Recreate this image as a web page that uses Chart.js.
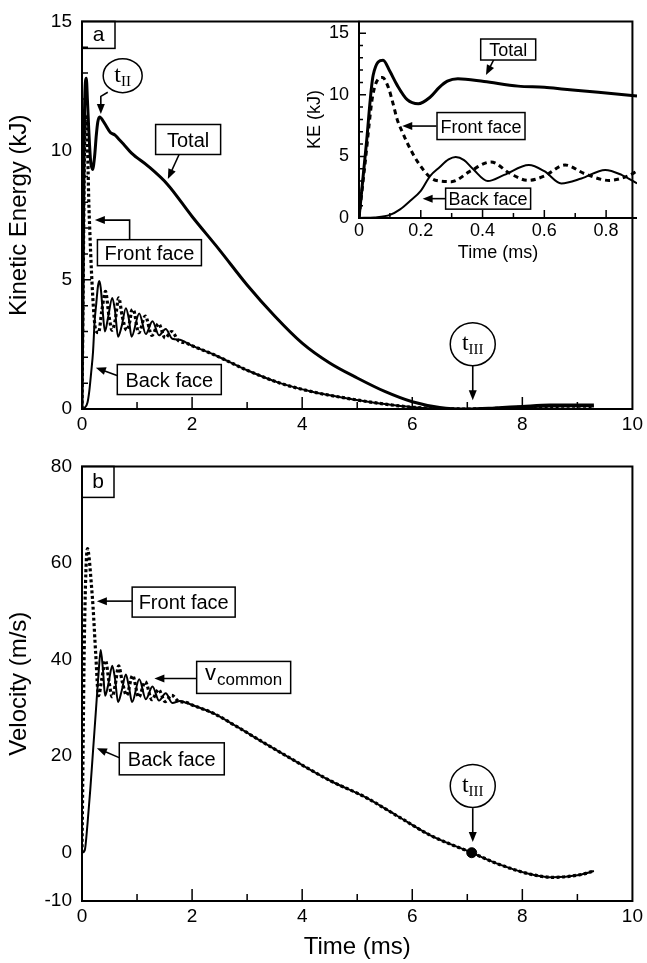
<!DOCTYPE html>
<html>
<head>
<meta charset="utf-8">
<script src="https://cdn.jsdelivr.net/npm/chart.js@4"></script>
<style>
  body { margin: 0; background: #fff; }
  #wrap { position: relative; width: 647px; height: 963px; }
  canvas { position: absolute; }
</style>
</head>
<body>
<div id="wrap">
  <canvas id="energyChart" width="647" height="445" style="left:0;top:0"></canvas>
  <canvas id="insetChart" width="357" height="265" style="left:290px;top:0"></canvas>
  <canvas id="velocityChart" width="647" height="518" style="left:0;top:445px"></canvas>
</div>
<script>
// ---- inset: kinetic energy over the first 0.9 ms (kJ) ----
const insetTotalTime = [0, 0.023, 0.046, 0.078, 0.1, 0.123, 0.156, 0.192, 0.23, 0.26, 0.286, 0.32, 0.405, 0.515, 0.6, 0.665, 0.775, 0.9];
const insetTotal     = [0, 5.8, 11.6, 12.8, 11.9, 10.8, 9.6, 9.27, 9.8, 10.6, 11.1, 11.3, 11.07, 10.7, 10.6, 10.45, 10.2, 9.9];
const insetFrontTime = [0, 0.02, 0.045, 0.076, 0.095, 0.11, 0.124, 0.14, 0.156, 0.19, 0.233, 0.26, 0.3, 0.36, 0.427, 0.49, 0.547, 0.6, 0.667, 0.73, 0.81, 0.87, 0.9];
const insetFront     = [0, 4.5, 10.0, 11.4, 10.6, 9.3, 7.96, 7.0, 6.1, 4.55, 3.25, 3.0, 2.95, 3.8, 4.55, 3.6, 3.05, 3.4, 4.3, 3.6, 3.05, 3.4, 3.8];
const insetBackTime  = [0, 0.05, 0.1, 0.133, 0.166, 0.2, 0.23, 0.26, 0.29, 0.313, 0.34, 0.37, 0.417, 0.47, 0.55, 0.6, 0.655, 0.72, 0.797, 0.85, 0.9];
const insetBack      = [0, 0.05, 0.25, 0.7, 1.4, 2.2, 3.4, 4.1, 4.75, 4.95, 4.7, 3.95, 3.0, 3.5, 4.3, 3.8, 2.8, 3.2, 3.9, 3.5, 2.8];

// ---- panel a: kinetic energy, whole run (kJ) ----
const keTotalTime = insetTotalTime.concat([1.2, 1.55, 2.0, 2.5, 3.0, 3.5, 4.0, 4.5, 5.0, 5.5, 6.0, 6.5, 7.0, 7.5, 8.0, 8.5, 9.0, 9.3]);
const keTotal     = insetTotal.concat([9.4, 8.7, 7.45, 6.15, 4.8, 3.6, 2.55, 1.78, 1.2, 0.68, 0.28, 0.06, 0.0, 0.04, 0.1, 0.15, 0.15, 0.15]);
const keCommonTime = [2.0, 2.4, 3.0, 3.6, 4.2, 4.8, 5.5, 6.0, 6.5, 7.0, 7.5, 8.0, 8.5, 9.0, 9.3];
const keCommon     = [2.45, 2.1, 1.5, 1.0, 0.66, 0.42, 0.19, 0.07, 0.02, 0.0, 0.02, 0.07, 0.1, 0.11, 0.1];
const keFrontTime = insetFrontTime.concat([0.93, 1.03, 1.15, 1.27, 1.39, 1.51, 1.63, 1.75, 1.9], keCommonTime);
const keFront     = insetFront.concat([3.85, 2.95, 3.6, 2.85, 3.3, 2.75, 3.0, 2.65, 2.55], keCommon);
const keBackTime  = insetBackTime.concat([1.04, 1.16, 1.28, 1.4, 1.52, 1.64, 1.78, 1.9], keCommonTime);
const keBack      = insetBack.concat([3.7, 2.9, 3.4, 2.85, 3.1, 2.72, 2.68, 2.56], keCommon);

// ---- panel b: velocity (m/s) ----
const velCommonTime = [2.0, 2.4, 2.8, 3.33, 3.93, 4.53, 5.13, 5.73, 6.33, 7.08, 7.53, 8.13, 8.55, 9.03, 9.3];
const velCommon     = [30.6, 28.8, 26.2, 22.6, 18.6, 14.8, 11.6, 7.6, 3.6, 0, -2.2, -4.4, -5.1, -4.6, -3.8];
const velFrontTime = [0, 0.02, 0.04, 0.07, 0.1, 0.13, 0.16, 0.2, 0.25, 0.3, 0.36, 0.427, 0.49, 0.547, 0.6, 0.667, 0.73, 0.81, 0.92, 1.03, 1.15, 1.27, 1.39, 1.51, 1.63, 1.75, 1.9].concat(velCommonTime);
const velFront     = [0, 22, 42, 58, 63, 61, 57, 51, 41, 32.5, 36, 39.8, 35.5, 32.3, 34.5, 38.7, 35.5, 32.6, 36.7, 32.2, 35.4, 31.7, 33.8, 31.3, 32.6, 31.4, 31.1].concat(velCommon);
const velBackTime  = [0, 0.05, 0.1, 0.15, 0.2, 0.25, 0.3, 0.34, 0.38, 0.42, 0.48, 0.55, 0.6, 0.655, 0.72, 0.797, 0.85, 0.91, 1.04, 1.16, 1.28, 1.4, 1.52, 1.64, 1.78, 1.9].concat(velCommonTime);
const velBack      = [0, 0.5, 6, 13, 21, 29, 37, 42, 38, 32.5, 35, 38.7, 36, 31.2, 33.5, 36.9, 34.5, 31.2, 35.9, 31.8, 34.4, 31.5, 33.0, 31.0, 31.4, 31.0].concat(velCommon);
const tIIITime = [7.08];
const tIIIVel  = [0];

// ---- axis ticks ----
const timeTicks    = [0, 2, 4, 6, 8, 10];
const keTicks      = [0, 5, 10, 15];
const velTicks     = [-10, 0, 20, 40, 60, 80];
const insetTimeTicks = [0, 0.2, 0.4, 0.6, 0.8];
const insetKeTicks = [0, 5, 10, 15];

Chart.defaults.font.family = '"Liberation Sans", Arial, sans-serif';
Chart.defaults.color = '#000';

function series(times, values, style) {
  return Object.assign({
    data: times.map((t, i) => ({ x: t, y: values[i] })),
    showLine: true,
    pointRadius: 0,
    borderColor: '#000',
    backgroundColor: '#000',
    fill: false,
    cubicInterpolationMode: 'monotone'
  }, style);
}

function axis(min, max, ticks, size, pad, title, titleSize, titlePad) {
  return {
    type: 'linear', min: min, max: max,
    afterBuildTicks: s => { s.ticks = ticks.map(v => ({ value: v })); },
    grid: { display: false, drawTicks: false },
    border: { display: false },
    ticks: { font: { size: size }, padding: pad, maxRotation: 0, autoSkip: false },
    title: title ? { display: true, text: title, font: { size: titleSize }, padding: titlePad } : { display: false }
  };
}

// frame and inward ticks
const frame = {
  id: 'frame',
  afterDatasetsDraw(chart, args, o) {
    const { ctx, chartArea: a, scales: { x, y } } = chart;
    ctx.save();
    ctx.strokeStyle = '#000';
    ctx.lineWidth = 2;
    ctx.beginPath();
    if (o.box) {
      ctx.rect(a.left, a.top, a.width, a.height);
    } else {
      ctx.moveTo(a.left, a.top);
      ctx.lineTo(a.left, a.bottom);
      ctx.lineTo(a.right, a.bottom);
    }
    ctx.stroke();
    ctx.lineWidth = 1.5;
    ctx.beginPath();
    (o.xTicks || []).forEach(([v, len]) => {
      const px = x.getPixelForValue(v);
      ctx.moveTo(px, a.bottom);
      ctx.lineTo(px, a.bottom - len);
    });
    (o.yTicks || []).forEach(([v, len]) => {
      const py = y.getPixelForValue(v);
      ctx.moveTo(a.left, py);
      ctx.lineTo(a.left + len, py);
    });
    ctx.stroke();
    ctx.restore();
  }
};

// labels, boxes and arrows
const notes = {
  id: 'notes',
  afterDraw(chart, args, o) {
    const { ctx, chartArea: a, scales: { x, y } } = chart;
    const px = p => [x.getPixelForValue(p[0]), y.getPixelForValue(p[1])];
    ctx.save();
    ctx.strokeStyle = '#000';
    ctx.fillStyle = '#000';
    (o.items || []).forEach(n => {
      if (n.type === 'arrow') {
        const pts = n.pts.map(px);
        const [tx, ty] = pts[pts.length - 1];
        const [fx, fy] = pts[pts.length - 2];
        const ang = Math.atan2(ty - fy, tx - fx);
        const L = 10, W = 4;
        ctx.lineWidth = 1.6;
        ctx.beginPath();
        pts.forEach((p, i) => {
          if (i === pts.length - 1) ctx.lineTo(tx - (L - 2) * Math.cos(ang), ty - (L - 2) * Math.sin(ang));
          else if (i) ctx.lineTo(p[0], p[1]);
          else ctx.moveTo(p[0], p[1]);
        });
        ctx.stroke();
        ctx.beginPath();
        ctx.moveTo(tx, ty);
        ctx.lineTo(tx - L * Math.cos(ang) + W * Math.sin(ang), ty - L * Math.sin(ang) - W * Math.cos(ang));
        ctx.lineTo(tx - L * Math.cos(ang) - W * Math.sin(ang), ty - L * Math.sin(ang) + W * Math.cos(ang));
        ctx.closePath();
        ctx.fill();
      } else if (n.type === 'box') {
        const [cx, cy] = px(n.at);
        ctx.lineWidth = 1.5;
        ctx.fillStyle = '#fff';
        ctx.fillRect(cx - n.w / 2, cy - n.h / 2, n.w, n.h);
        ctx.strokeRect(cx - n.w / 2, cy - n.h / 2, n.w, n.h);
        ctx.fillStyle = '#000';
        ctx.textBaseline = 'alphabetic';
        if (n.sub) {
          ctx.font = n.size + 'px "Liberation Sans"';
          const w1 = ctx.measureText(n.text).width;
          ctx.font = n.subSize + 'px "Liberation Sans"';
          const w2 = ctx.measureText(n.sub).width;
          const x0 = cx - (w1 + w2 + 1) / 2;
          ctx.textAlign = 'left';
          ctx.font = n.size + 'px "Liberation Sans"';
          ctx.fillText(n.text, x0, cy + 3);
          ctx.font = n.subSize + 'px "Liberation Sans"';
          ctx.fillText(n.sub, x0 + w1 + 1, cy + 8);
        } else {
          ctx.font = n.size + 'px "Liberation Sans"';
          ctx.textAlign = 'center';
          ctx.fillText(n.text, cx, cy + n.size * 0.36);
        }
      } else if (n.type === 'circle') {
        const [cx, cy] = px(n.at);
        ctx.lineWidth = 1.5;
        ctx.fillStyle = '#fff';
        ctx.beginPath();
        ctx.ellipse(cx, cy, n.rx, n.ry, 0, 0, Math.PI * 2);
        ctx.fill();
        ctx.stroke();
        ctx.fillStyle = '#000';
        ctx.textAlign = 'left';
        ctx.textBaseline = 'alphabetic';
        ctx.font = '24px "Liberation Serif"';
        const w1 = ctx.measureText(n.text).width;
        ctx.font = '15px "Liberation Serif"';
        const w2 = ctx.measureText(n.sub).width;
        const x0 = cx - (w1 + w2) / 2;
        ctx.font = '24px "Liberation Serif"';
        ctx.fillText(n.text, x0, cy + 6);
        ctx.font = '15px "Liberation Serif"';
        ctx.fillText(n.sub, x0 + w1, cy + 10);
      } else if (n.type === 'corner') {
        ctx.lineWidth = 1.5;
        ctx.strokeRect(a.left, a.top, n.w, n.h);
        ctx.font = '21px "Liberation Sans"';
        ctx.textAlign = 'center';
        ctx.textBaseline = 'middle';
        ctx.fillText(n.text, a.left + n.w / 2, a.top + n.h / 2);
      }
    });
    ctx.restore();
  }
};

function odd(list, len) { return list.map(v => [v, len]); }

new Chart(document.getElementById('energyChart'), {
  type: 'scatter',
  data: {
    datasets: [
      series(keFrontTime, keFront, { borderWidth: 3.2, borderDash: [3, 2.5], order: 1 }),
      series(keTotalTime, keTotal, { borderWidth: 3, order: 2 }),
      series(keBackTime, keBack, { borderWidth: 2, order: 3 })
    ]
  },
  options: {
    responsive: false,
    animation: false,
    layout: { padding: { top: 15, right: 10, left: 0, bottom: 0 }, autoPadding: false },
    scales: {
      x: Object.assign(axis(0, 10, timeTicks, 19, 4), { afterFit: s => { s.height = 36; } }),
      y: Object.assign(axis(0, 15, keTicks, 19, 10, 'Kinetic Energy (kJ)', 24, { top: 5, bottom: 0 }), { afterFit: s => { s.width = 82; } })
    },
    plugins: {
      legend: { display: false },
      tooltip: { enabled: false },
      frame: {
        box: true,
        xTicks: odd([1, 3, 5, 7, 9], 7).concat(odd([2, 4, 6, 8], 12)),
        yTicks: odd([1, 2, 3, 4, 6, 7, 8, 9, 11, 12, 13, 14], 6).concat(odd([5, 10], 9))
      },
      notes: {
        items: [
          { type: 'corner', text: 'a', w: 33, h: 27 },
          { type: 'arrow', pts: [[0.468, 12.26], [0.342, 12.1], [0.342, 11.42]] },
          { type: 'circle', at: [0.739, 12.9], rx: 19.5, ry: 17, text: 't', sub: 'II' },
          { type: 'arrow', pts: [[1.766, 9.86], [1.56, 8.9]] },
          { type: 'box', at: [1.928, 10.43], w: 65, h: 30, text: 'Total', size: 20 },
          { type: 'arrow', pts: [[0.865, 6.55], [0.865, 7.31], [0.234, 7.31]] },
          { type: 'box', at: [1.225, 6.05], w: 104, h: 26, text: 'Front face', size: 20 },
          { type: 'arrow', pts: [[0.649, 1.29], [0.252, 1.6]] },
          { type: 'box', at: [1.586, 1.14], w: 104, h: 30, text: 'Back face', size: 20 },
          { type: 'arrow', pts: [[7.099, 1.675], [7.099, 0.343]] },
          { type: 'circle', at: [7.099, 2.51], rx: 22.5, ry: 21.5, text: 't', sub: 'III' }
        ]
      }
    }
  },
  plugins: [frame, notes]
});

new Chart(document.getElementById('insetChart'), {
  type: 'scatter',
  data: {
    datasets: [
      series(insetFrontTime, insetFront, { borderWidth: 3, borderDash: [5, 4], order: 1 }),
      series(insetTotalTime, insetTotal, { borderWidth: 3, order: 2 }),
      series(insetBackTime, insetBack, { borderWidth: 2, order: 3 })
    ]
  },
  options: {
    responsive: false,
    animation: false,
    layout: { padding: { top: 14, right: 10, left: 0, bottom: 0 }, autoPadding: false },
    scales: {
      x: Object.assign(axis(0, 0.9, insetTimeTicks, 18, 2, 'Time (ms)', 18, { top: 0, bottom: 1 }), { afterFit: s => { s.height = 47; } }),
      y: Object.assign(axis(0, 16, insetKeTicks, 18, 10, 'KE (kJ)', 18, { top: 14, bottom: 0 }), { afterFit: s => { s.width = 69; } })
    },
    plugins: {
      legend: { display: false },
      tooltip: { enabled: false },
      frame: {
        box: false,
        xTicks: odd([0.1, 0.3, 0.5, 0.7], 5).concat(odd([0.2, 0.4, 0.6, 0.8], 8)),
        yTicks: odd([1, 2, 3, 4, 6, 7, 8, 9, 11, 12, 13, 14], 4).concat(odd([5, 10, 15], 7))
      },
      notes: {
        items: [
          { type: 'arrow', pts: [[0.437, 12.88], [0.411, 11.6]] },
          { type: 'box', at: [0.483, 13.67], w: 55, h: 21, text: 'Total', size: 18 },
          { type: 'arrow', pts: [[0.251, 7.46], [0.14, 7.46]] },
          { type: 'box', at: [0.395, 7.46], w: 88, h: 27, text: 'Front face', size: 18 },
          { type: 'arrow', pts: [[0.281, 1.57], [0.206, 1.57]] },
          { type: 'box', at: [0.418, 1.57], w: 85, h: 21, text: 'Back face', size: 18 }
        ]
      }
    }
  },
  plugins: [frame, notes]
});

new Chart(document.getElementById('velocityChart'), {
  type: 'scatter',
  data: {
    datasets: [
      series(tIIITime, tIIIVel, { showLine: false, pointRadius: 5, order: 0 }),
      series(velFrontTime, velFront, { borderWidth: 3.2, borderDash: [3, 2.5], order: 1 }),
      series(velBackTime, velBack, { borderWidth: 2, order: 2 })
    ]
  },
  options: {
    responsive: false,
    animation: false,
    layout: { padding: { top: 7, right: 10, left: 0, bottom: 0 }, autoPadding: false },
    scales: {
      x: Object.assign(axis(0, 10, timeTicks, 19, 4, 'Time (ms)', 24, { top: 0, bottom: 1 }), { afterFit: s => { s.height = 62; } }),
      y: Object.assign(axis(-10, 80, velTicks, 19, 10, 'Velocity (m/s)', 24, { top: 5, bottom: 0 }), { afterFit: s => { s.width = 82; } })
    },
    plugins: {
      legend: { display: false },
      tooltip: { enabled: false },
      frame: {
        box: true,
        xTicks: odd([1, 3, 5, 7, 9], 7).concat(odd([2, 4, 6, 8], 12))
      },
      notes: {
        items: [
          { type: 'corner', text: 'b', w: 32, h: 31 },
          { type: 'arrow', pts: [[0.919, 52.1], [0.27, 52.1]] },
          { type: 'box', at: [1.847, 51.9], w: 103, h: 30, text: 'Front face', size: 20 },
          { type: 'arrow', pts: [[2.09, 36.07], [1.315, 36.07]] },
          { type: 'box', at: [2.937, 36.3], w: 94, h: 32, text: 'v', sub: 'common', size: 22, subSize: 17 },
          { type: 'arrow', pts: [[0.685, 19.64], [0.27, 21.64]] },
          { type: 'box', at: [1.631, 19.44], w: 105, h: 32, text: 'Back face', size: 20 },
          { type: 'arrow', pts: [[7.099, 9.22], [7.099, 2.2]] },
          { type: 'circle', at: [7.099, 13.83], rx: 22.5, ry: 21.5, text: 't', sub: 'III' }
        ]
      }
    }
  },
  plugins: [frame, notes]
});
</script>
</body>
</html>
